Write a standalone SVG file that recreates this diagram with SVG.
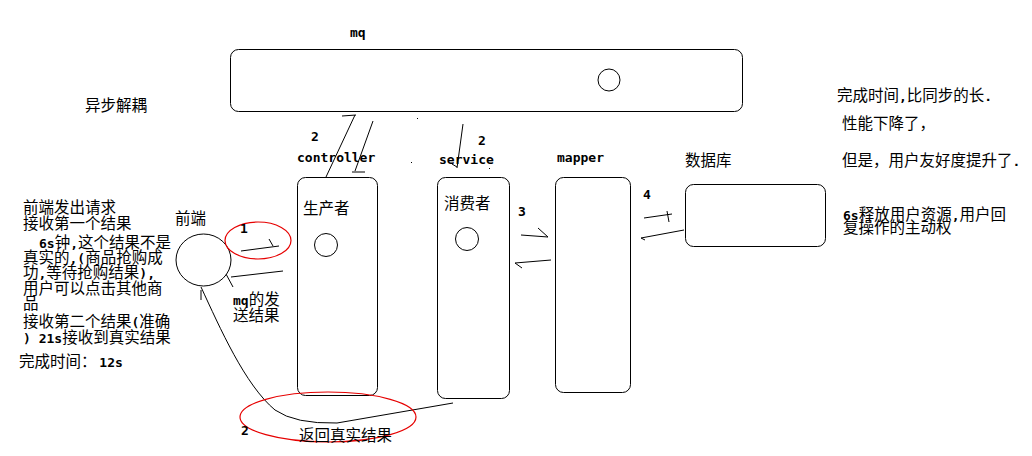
<svg xmlns="http://www.w3.org/2000/svg" width="1032" height="456" viewBox="0 0 1032 456">
<style>
.box{fill:none;stroke:#000;stroke-width:1}
.ln{fill:none;stroke:#000;stroke-width:1}
.red{fill:none;stroke:#e60000;stroke-width:1.2}
.cn{font-family:"Noto Sans CJK SC","DejaVu Sans",sans-serif;font-size:15.5px;fill:#000}
.lb{font-family:"DejaVu Sans Mono","Liberation Mono",monospace;font-size:13px;font-weight:bold;fill:#000}
.a{font-family:"DejaVu Sans Mono","Liberation Mono",monospace;font-size:13px;font-weight:bold}
</style>
<rect width="1032" height="456" fill="#fff"/>
<g id="mq">
<text class="lb" x="350" y="37">mq</text>
<rect class="box" x="230.5" y="49.5" width="512" height="62" rx="8"/>
<circle class="box" cx="609" cy="80" r="11"/>
</g>
<g id="note-async"><text class="cn" x="85" y="111">异步解耦</text></g>
<g id="frontend">
<text class="cn" x="175" y="224">前端</text>
<ellipse class="box" cx="203.5" cy="260" rx="27.5" ry="26"/>
</g>
<g id="controller">
<text class="lb" x="297" y="162">controller</text>
<rect class="box" x="297.5" y="177.5" width="80" height="218" rx="8"/>
<text class="cn" x="303" y="214">生产者</text>
<circle class="box" cx="326" cy="245" r="11.5"/>
</g>
<g id="service">
<text class="lb" x="439" y="164">service</text>
<rect class="box" x="437.5" y="177.5" width="72" height="221" rx="8"/>
<text class="cn" x="444" y="209">消费者</text>
<circle class="box" cx="467" cy="239" r="11.5"/>
</g>
<g id="mapper">
<text class="lb" x="557" y="162">mapper</text>
<rect class="box" x="555.5" y="177.5" width="75" height="215" rx="8"/>
</g>
<g id="database">
<text class="cn" x="685" y="166">数据库</text>
<rect class="box" x="685.5" y="184.5" width="140" height="62" rx="8"/>
</g>
<g id="left-notes">
<text class="cn" x="23" y="213">前端发出请求</text>
<text class="cn" x="23" y="229">接收第一个结果</text>
<text class="cn" x="39" y="248"><tspan class="a">6s</tspan>钟<tspan class="a">,</tspan>这个结果不是</text>
<text class="cn" x="23" y="263">真实的<tspan class="a">,(</tspan>商品抢购成</text>
<text class="cn" x="23" y="278">功<tspan class="a">,</tspan>等待抢购结果<tspan class="a">),</tspan></text>
<text class="cn" x="23" y="294">用户可以点击其他商</text>
<text class="cn" x="23" y="309">品</text>
<text class="cn" x="23" y="327">接收第二个结果<tspan class="a">(</tspan>准确</text>
<text class="cn" x="23" y="343"><tspan class="a">) 21s</tspan>接收到真实结果</text>
<text class="cn" x="19" y="367">完成时间：<tspan class="a" dx="-5"> 12s</tspan></text>
</g>
<g id="mq-result-note">
<text class="cn" x="233" y="305"><tspan class="a">mq</tspan>的发</text>
<text class="cn" x="233" y="321">送结果</text>
</g>
<g id="right-notes">
<text class="cn" x="837" y="101">完成时间<tspan class="a">,</tspan>比同步的长<tspan class="a">.</tspan></text>
<text class="cn" x="842" y="129">性能下降了，</text>
<text class="cn" x="842" y="166">但是，用户友好度提升了<tspan class="a">.</tspan></text>
<text class="cn" x="843" y="220"><tspan class="a">6s</tspan>释放用户资源<tspan class="a">,</tspan>用户回</text>
<text class="cn" x="843" y="233">复操作的主动权</text>
</g>
<g id="connectors">
<ellipse class="red" cx="258" cy="240.5" rx="33" ry="18.5"/>
<text class="lb" x="240" y="233">1</text>
<path class="ln" d="M241,251 L279,246 M269,239 L273,246"/>
<path class="ln" d="M231,277 L283,271 M226,274 L233,287"/>
<text class="lb" x="311" y="141">2</text>
<path class="ln" d="M355,115 L326,177 M342,116 L356,115"/>
<path class="ln" d="M373,121 L355,171 M352,172 L365,172"/>
<text class="lb" x="478" y="145">2</text>
<path class="ln" d="M463,124 L457,168 M452,164 L457,167"/>
<rect x="411" y="162" width="1" height="1" fill="#000"/>
<rect x="417" y="118" width="1" height="1" fill="#000"/>
<rect x="489" y="168" width="1" height="1" fill="#000"/>
<text class="lb" x="518" y="216">3</text>
<path class="ln" d="M521,235 L548,237 M538,228 L548,237"/>
<path class="ln" d="M551,260 L515,263 M515,263 L522,268"/>
<text class="lb" x="643" y="199">4</text>
<path class="ln" d="M644,218 L672,214 M667,211 L669,222"/>
<path class="ln" d="M684,230 L641,238 M641,238 L645,240"/>
<path class="ln" d="M201,287 C220,328 245,385 275,410 Q295,424 337,423 L453,403"/>
<path class="ln" d="M201,290 L201,300"/>
<ellipse class="red" cx="328" cy="417" rx="88" ry="25"/>
<text class="lb" x="241" y="435">2</text>
<text class="cn" x="299" y="441">返回真实结果</text>
</g>
</svg>
